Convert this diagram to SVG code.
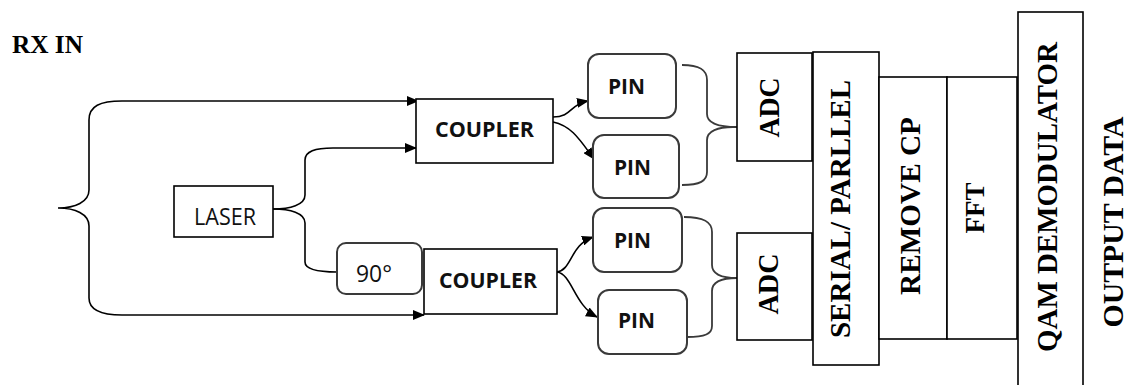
<svg xmlns="http://www.w3.org/2000/svg" width="1129" height="385" viewBox="0 0 1129 385">
  <style>
    .box { fill: #fff; stroke: #000; stroke-width: 1.6; }
    .rbox { fill: #fff; stroke: #3a3a3a; stroke-width: 2; }
    .wire { fill: none; stroke: #000; stroke-width: 1.6; }
    .brace { fill: none; stroke: #3a3a3a; stroke-width: 1.8; }
    .serif { font-family: "Liberation Serif", "Times New Roman", serif; font-weight: bold; fill: #000; }
    .sans { font-family: "Open Sans", "Liberation Sans", sans-serif; fill: #111; }
    .sansb { font-family: "Open Sans", "Liberation Sans", sans-serif; font-weight: bold; fill: #111; }
  </style>
  <defs>
    <marker id="arr" viewBox="0 0 12 10" refX="11" refY="5" markerWidth="12" markerHeight="10" markerUnits="userSpaceOnUse" orient="auto">
      <path d="M0,0 L12,5 L0,10 Z" fill="#000"/>
    </marker>
  </defs>
  <rect width="1129" height="385" fill="#fff"/>

  <text class="serif" x="12" y="53" font-size="26" textLength="71" lengthAdjust="spacingAndGlyphs">RX IN</text>

  <g id="connectors">
    <path class="wire" d="M122,101 C100,101 89,106 89,120 L89,190 C89,202 75,208 58,208 C75,208 89,214 89,226 L89,298 C89,310 100,315 122,315"/>
    <path class="wire" d="M122,101 L418,101" marker-end="url(#arr)"/>
    <path class="wire" d="M122,315 L424,315" marker-end="url(#arr)"/>
    <path class="wire" d="M273,209 C290,209 305,205 305,195 L305,160 C305,151 315,148 333,148 L416,148" marker-end="url(#arr)"/>
    <path class="wire" d="M273,209 C290,209 305,213 305,223 L305,262 C305,269 315,272 337,272"/>
    <path class="wire" d="M553,117 C572,117 570,104 588,101" marker-end="url(#arr)"/>
    <path class="wire" d="M553,122 C572,126 580,140 594,159" marker-end="url(#arr)"/>
    <path class="wire" d="M557,272 C572,270 570,245 593,237" marker-end="url(#arr)"/>
    <path class="wire" d="M557,272 C572,274 574,305 597,317" marker-end="url(#arr)"/>
    <path class="brace" d="M682,65 C700,65 707,70 707,80 L707,114 C707,123 718,127 737,127 M733,127 C718,127 707,131 707,140 L707,172 C707,181 700,185 682,185"/>
    <path class="brace" d="M684,217 C704,217 712,222 712,232 L712,265 C712,274 722,278 737,278 M737,278 C722,278 712,282 712,291 L712,326 C712,334 705,337 687,337"/>
  </g>

  <g id="laser">
    <rect class="box" x="174" y="186" width="99" height="51"/>
    <text class="sans" x="225" y="225" font-size="23" text-anchor="middle" textLength="62" lengthAdjust="spacingAndGlyphs">LASER</text>
  </g>
  <g id="phase90">
    <rect class="rbox" x="337" y="243" width="85" height="51" rx="9"/>
    <text class="sans" x="356" y="282" font-size="23" textLength="36" lengthAdjust="spacingAndGlyphs">90°</text>
  </g>
  <g id="coupler1">
    <rect class="box" x="416" y="99" width="137" height="64"/>
    <text class="sansb" x="435" y="137" font-size="21" textLength="99" lengthAdjust="spacingAndGlyphs">COUPLER</text>
  </g>
  <g id="coupler2">
    <rect class="box" x="424" y="249" width="133" height="65"/>
    <text class="sansb" x="439" y="288" font-size="21" textLength="98" lengthAdjust="spacingAndGlyphs">COUPLER</text>
  </g>
  <g id="pin1">
    <rect class="rbox" x="588" y="54" width="88" height="64" rx="11"/>
    <text class="sansb" x="608" y="94" font-size="21" textLength="37" lengthAdjust="spacingAndGlyphs">PIN</text>
  </g>
  <g id="pin2">
    <rect class="rbox" x="593" y="135" width="86" height="63" rx="11"/>
    <text class="sansb" x="614" y="175" font-size="21" textLength="37" lengthAdjust="spacingAndGlyphs">PIN</text>
  </g>
  <g id="pin3">
    <rect class="rbox" x="593" y="208" width="89" height="64" rx="11"/>
    <text class="sansb" x="614" y="248" font-size="21" textLength="37" lengthAdjust="spacingAndGlyphs">PIN</text>
  </g>
  <g id="pin4">
    <rect class="rbox" x="598" y="290" width="89" height="64" rx="11"/>
    <text class="sansb" x="618" y="328" font-size="21" textLength="37" lengthAdjust="spacingAndGlyphs">PIN</text>
  </g>

  <g id="adc1">
    <rect class="box" x="737" y="53" width="75" height="108"/>
    <text class="serif" transform="translate(769,107.5) rotate(-90)" x="0" y="10" font-size="30" text-anchor="middle" textLength="60" lengthAdjust="spacingAndGlyphs">ADC</text>
  </g>
  <g id="adc2">
    <rect class="box" x="737" y="233" width="75" height="107"/>
    <text class="serif" transform="translate(768,284) rotate(-90)" x="0" y="10" font-size="30" text-anchor="middle" textLength="61" lengthAdjust="spacingAndGlyphs">ADC</text>
  </g>
  <g id="serial">
    <rect class="box" x="813" y="52" width="66" height="313"/>
    <text class="serif" transform="translate(840,209) rotate(-90)" x="0" y="10" font-size="30" text-anchor="middle" textLength="258" lengthAdjust="spacingAndGlyphs">SERIAL/ PARLLEL</text>
  </g>
  <g id="removecp">
    <rect class="box" x="879" y="77" width="68" height="262"/>
    <text class="serif" transform="translate(910,206) rotate(-90)" x="0" y="10" font-size="30" text-anchor="middle" textLength="178" lengthAdjust="spacingAndGlyphs">REMOVE CP</text>
  </g>
  <g id="fft">
    <rect class="box" x="947" y="77" width="70" height="262"/>
    <text class="serif" transform="translate(975,208) rotate(-90)" x="0" y="9" font-size="28" text-anchor="middle" textLength="51" lengthAdjust="spacingAndGlyphs">FFT</text>
  </g>
  <g id="qam">
    <rect class="box" x="1018" y="12" width="65" height="385"/>
    <text class="serif" transform="translate(1047,197) rotate(-90)" x="0" y="10" font-size="30" text-anchor="middle" textLength="310" lengthAdjust="spacingAndGlyphs">QAM DEMODULATOR</text>
  </g>
  <text class="serif" transform="translate(1113,222) rotate(-90)" x="0" y="10" font-size="30" text-anchor="middle" textLength="211" lengthAdjust="spacingAndGlyphs">OUTPUT DATA</text>
</svg>
